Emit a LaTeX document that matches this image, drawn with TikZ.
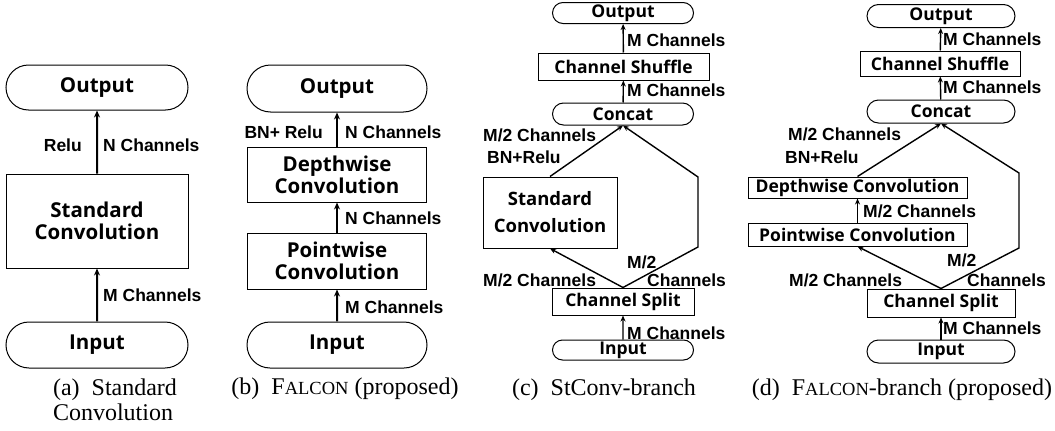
\documentclass[tikz,border=0pt]{standalone}
\usepackage{fontspec}
\setmainfont{Liberation Serif}
\newfontfamily\boxfont{Open Sans}
\newfontfamily\labfont{Liberation Sans}
\usetikzlibrary{shapes.misc}
\usetikzlibrary{arrows.meta}

\newcommand{\falcon}{F{\fontsize{18.5}{20}\selectfont ALCON}}

\begin{document}
\begin{tikzpicture}[x=1pt,y=-1pt,
	term/.style={rounded rectangle,draw=black,line width=1pt,inner sep=0pt,font=\boxfont\bfseries\fontsize{20.5}{22}\selectfont},
	blk/.style={rectangle,draw=black,line width=1pt,inner sep=0pt,align=center,font=\boxfont\bfseries\fontsize{20.5}{22}\selectfont},
	lab/.style={inner sep=0pt,font=\labfont\bfseries\fontsize{17.5}{20}\selectfont},
	captext/.style={inner sep=0pt,align=left,font=\fontsize{24}{25}\selectfont},
	bigarr/.style={-{Stealth[length=7pt,width=6pt]},line width=2pt},
	arr/.style={-{Stealth[length=6pt,width=5pt]},line width=1.4pt}]
	\useasboundingbox (0,0) rectangle (1055,431);

	%% (a) standard convolution
	\node[term,minimum width=182,minimum height=45] (out_a) at (97,87.5) {Output};
	\node[blk,minimum width=182,minimum height=94] (conv_a) at (97,221) {Standard\\Convolution};
	\node[term,minimum width=182,minimum height=46] (in_a) at (97,345) {Input};
	\draw[bigarr] (conv_a) -- (out_a);
	\draw[bigarr] (in_a) -- (conv_a);
	\node[lab,anchor=east] (relu_a) at (82,145) {Relu};
	\node[lab,anchor=west] (nch_a) at (103,145) {N Channels};
	\node[lab,anchor=west] (mch_a) at (103,295) {M Channels};

	%% (b) falcon
	\node[term,minimum width=180,minimum height=47] (out_b) at (337,88.5) {Output};
	\node[blk,minimum width=179,minimum height=55] (dw_b) at (337,174.5) {Depthwise\\Convolution};
	\node[blk,minimum width=179,minimum height=56] (pw_b) at (337,261) {Pointwise\\Convolution};
	\node[term,minimum width=180,minimum height=46] (in_b) at (337,345) {Input};
	\draw[bigarr] (dw_b) -- (out_b);
	\draw[bigarr] (pw_b) -- (dw_b);
	\draw[bigarr] (in_b) -- (pw_b);
	\node[lab,anchor=east] (relu_b) at (323,132) {BN+ Relu};
	\node[lab,anchor=west] (nch_b1) at (345,132) {N Channels};
	\node[lab,anchor=west] (nch_b2) at (345,218) {N Channels};
	\node[lab,anchor=west] (mch_b) at (345,307) {M Channels};

	%% (c) stconv-branch
	\node[term,minimum width=141,minimum height=21,font=\boxfont\bfseries\fontsize{17.5}{20}\selectfont] (out_c) at (623,13) {Output};
	\node[blk,minimum width=171,minimum height=27,font=\boxfont\bfseries\fontsize{17.5}{20}\selectfont] (sh_c) at (623.5,66.5) {Channel Shuffle};
	\node[term,minimum width=141,minimum height=22,font=\boxfont\bfseries\fontsize{17.5}{20}\selectfont] (cat_c) at (623,114) {Concat};
	\node[blk,minimum width=134,minimum height=71,font=\boxfont\bfseries\fontsize{18.5}{27}\selectfont] (conv_c) at (550,212.5) {Standard\\Convolution};
	\node[blk,minimum width=142,minimum height=27,font=\boxfont\bfseries\fontsize{17.5}{20}\selectfont] (sp_c) at (623,301.5) {Channel Split};
	\node[term,minimum width=141,minimum height=20,font=\boxfont\bfseries\fontsize{17.5}{20}\selectfont] (in_c) at (623,350) {Input};
	\coordinate (c_r1) at (698,247);
	\coordinate (c_r2) at (698,177);

	%% lines
	\draw[arr] (sh_c) -- (out_c);
	\draw[arr] (cat_c) -- (sh_c);
	\draw[arr] (in_c) -- (sp_c);
	\draw[arr] (sp_c.north) -- (conv_c.south);
	\draw[arr] (conv_c.north) -- (cat_c.south);
	\draw[arr] (sp_c.north) -- (c_r1) -- (c_r2) -- (cat_c.south);
	\node[lab,anchor=west] (mch_c1) at (627,40) {M Channels};
	\node[lab,anchor=west] (mch_c2) at (627,90) {M Channels};
	\node[lab,anchor=west] (mch_c3) at (627,333) {M Channels};
	\node[lab,anchor=west] (hch_c1) at (483,135) {M/2 Channels};
	\node[lab,anchor=west] (relu_c) at (487,157) {BN+Relu};
	\node[lab,anchor=west] (hch_c2) at (483,280) {M/2 Channels};
	\node[lab,anchor=west] (half_c) at (627,262) {M/2};
	\node[lab,anchor=west] (chs_c) at (647,280) {Channels};

	%% (d) falcon-branch
	\node[term,minimum width=148,minimum height=23,font=\boxfont\bfseries\fontsize{17.5}{20}\selectfont] (out_d) at (941,16) {Output};
	\node[blk,minimum width=160,minimum height=25,font=\boxfont\bfseries\fontsize{17.5}{20}\selectfont] (sh_d) at (940,63.5) {Channel Shuffle};
	\node[term,minimum width=148,minimum height=23,font=\boxfont\bfseries\fontsize{17.5}{20}\selectfont] (cat_d) at (941,111.5) {Concat};
	\node[blk,minimum width=219,minimum height=21,font=\boxfont\bfseries\fontsize{17.5}{20}\selectfont] (dw_d) at (857.5,187.5) {Depthwise Convolution};
	\node[blk,minimum width=219,minimum height=23,font=\boxfont\bfseries\fontsize{17.5}{20}\selectfont] (pw_d) at (857.5,234.5) {Pointwise Convolution};
	\node[blk,minimum width=148,minimum height=28,font=\boxfont\bfseries\fontsize{17.5}{20}\selectfont] (sp_d) at (941,303) {Channel Split};
	\node[term,minimum width=148,minimum height=23,font=\boxfont\bfseries\fontsize{17.5}{20}\selectfont] (in_d) at (941,351.5) {Input};
	\coordinate (d_r1) at (1019,248);
	\coordinate (d_r2) at (1019,173);

	%% lines
	\draw[arr] (sh_d) -- (out_d);
	\draw[arr] (cat_d) -- (sh_d);
	\draw[arr] (in_d) -- (sp_d);
	\draw[arr] (pw_d) -- (dw_d);
	\draw[arr] (sp_d.north) -- (pw_d.south);
	\draw[arr] (dw_d.north) -- (cat_d.south);
	\draw[arr] (sp_d.north) -- (d_r1) -- (d_r2) -- (cat_d.south);
	\node[lab,anchor=west] (mch_d1) at (943,39) {M Channels};
	\node[lab,anchor=west] (mch_d2) at (943,87) {M Channels};
	\node[lab,anchor=west] (mch_d3) at (943,328) {M Channels};
	\node[lab,anchor=west] (hch_d1) at (788,134) {M/2 Channels};
	\node[lab,anchor=west] (relu_d) at (785,157) {BN+Relu};
	\node[lab,anchor=west] (hch_d2) at (863,211) {M/2 Channels};
	\node[lab,anchor=west] (hch_d3) at (789,280) {M/2 Channels};
	\node[lab,anchor=west] (half_d) at (947,260) {M/2};
	\node[lab,anchor=west] (chs_d) at (967,280) {Channels};

	%% captions
	\node[captext] (cap_a) at (115,400) {(a)\ \ Standard\\Convolution};
	\node[captext] (cap_b) at (345,389) {(b)\ \ \falcon\ (proposed)};
	\node[captext] (cap_c) at (604,390) {(c)\ \ StConv-branch};
	\node[captext] (cap_d) at (902,390) {(d)\ \ \falcon-branch (proposed)};
\end{tikzpicture}
\end{document}
